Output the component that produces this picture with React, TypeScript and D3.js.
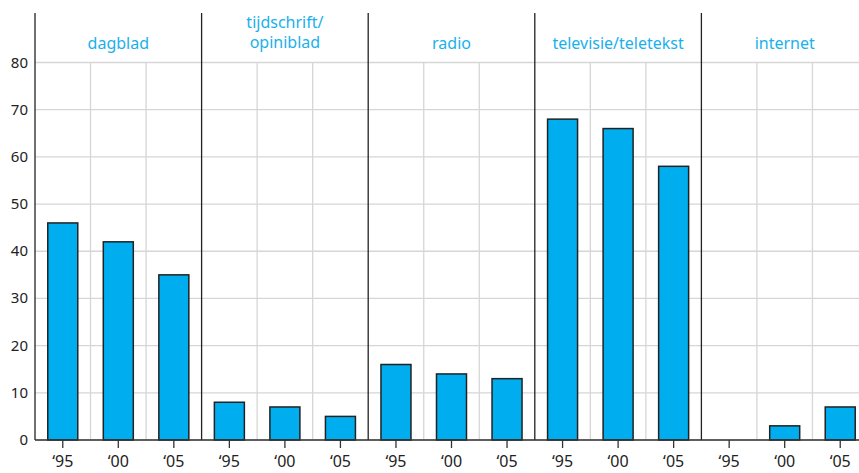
import * as d3 from "d3";

const groups = ["dagblad", "tijdschrift/\nopiniblad", "radio", "televisie/teletekst", "internet"];
const years = ["‘95", "‘00", "‘05"];
const values = [
  [46, 42, 35],
  [8, 7, 5],
  [16, 14, 13],
  [68, 66, 58],
  [0, 3, 7],
];
const yTicks = [0, 10, 20, 30, 40, 50, 60, 70, 80];

const W = 859;
const H = 473;
const X0 = 35;
const GROUP_W = 166.6;
const Y0 = 440;
const YTOP = 13;
const BLUE = "#00AEEF";
const LABEL_BLUE = "#1AB0EC";
const FONT = "'Noto Sans', 'Open Sans', sans-serif";

export default function App() {
  const xGroup = d3
    .scaleBand<number>()
    .domain(d3.range(groups.length))
    .range([X0, X0 + GROUP_W * groups.length]);
  const xInner = d3
    .scaleBand<number>()
    .domain(d3.range(years.length))
    .range([0, xGroup.bandwidth()]);
  const y = d3.scaleLinear().domain([0, 80]).range([Y0, 62.5]);
  const barW = 30;

  return (
    <svg
      width={W}
      height={H}
      style={{ position: "absolute", left: 0, top: 0, background: "#fff" }}
      fontFamily={FONT}
    >
      {/* horizontal grid */}
      {yTicks.map((t) => (
        <line
          key={t}
          x1={X0}
          x2={W}
          y1={y(t)}
          y2={y(t)}
          stroke="#d6d6d6"
          strokeWidth={1.3}
        />
      ))}
      {/* vertical minor grid between years */}
      {groups.map((_, g) =>
        [1, 2].map((k) => {
          const x = (xGroup(g) as number) + (xInner(k) as number);
          return (
            <line
              key={`${g}-${k}`}
              x1={x}
              x2={x}
              y1={y(80)}
              y2={Y0}
              stroke="#d6d6d6"
              strokeWidth={1.3}
            />
          );
        })
      )}
      {/* bars */}
      {values.map((row, g) =>
        row.map((v, i) => {
          if (v <= 0) return null;
          const cx = (xGroup(g) as number) + (xInner(i) as number) + xInner.bandwidth() / 2;
          return (
            <rect
              key={`${g}-${i}`}
              x={cx - barW / 2}
              y={y(v)}
              width={barW}
              height={Y0 - y(v)}
              fill={BLUE}
              stroke="#222"
              strokeWidth={1.5}
            />
          );
        })
      )}
      {/* group separators */}
      {groups.map((_, g) => {
        const x = xGroup(g) as number;
        return (
          <line key={g} x1={x} x2={x} y1={YTOP} y2={Y0} stroke="#222" strokeWidth={1.3} />
        );
      })}
      {/* x axis */}
      <line x1={X0} x2={W} y1={Y0} y2={Y0} stroke="#333" strokeWidth={1.5} />
      {/* x ticks + labels */}
      {groups.map((_, g) =>
        years.map((yr, i) => {
          const cx = (xGroup(g) as number) + (xInner(i) as number) + xInner.bandwidth() / 2;
          return (
            <g key={`${g}-${i}`}>
              <line x1={cx} x2={cx} y1={Y0} y2={Y0 + 8} stroke="#333" strokeWidth={1.3} />
              <text x={cx} y={Y0 + 27} textAnchor="middle" fontSize={16} fill="#222">
                {yr}
              </text>
            </g>
          );
        })
      )}
      {/* y labels */}
      {yTicks.map((t) => (
        <text key={t} x={28} y={y(t) + 5} textAnchor="end" fontSize={15} fill="#222">
          {t}
        </text>
      ))}
      {/* group labels */}
      {groups.map((name, g) => {
        const cx = (xGroup(g) as number) + xGroup.bandwidth() / 2;
        const lines = name.split("\n");
        const startY = lines.length > 1 ? 28 : 49;
        return (
          <text key={g} x={cx} textAnchor="middle" fontSize={16} fill={LABEL_BLUE}>
            {lines.map((l, k) => (
              <tspan key={k} x={cx} y={startY + k * 20}>
                {l}
              </tspan>
            ))}
          </text>
        );
      })}
    </svg>
  );
}
